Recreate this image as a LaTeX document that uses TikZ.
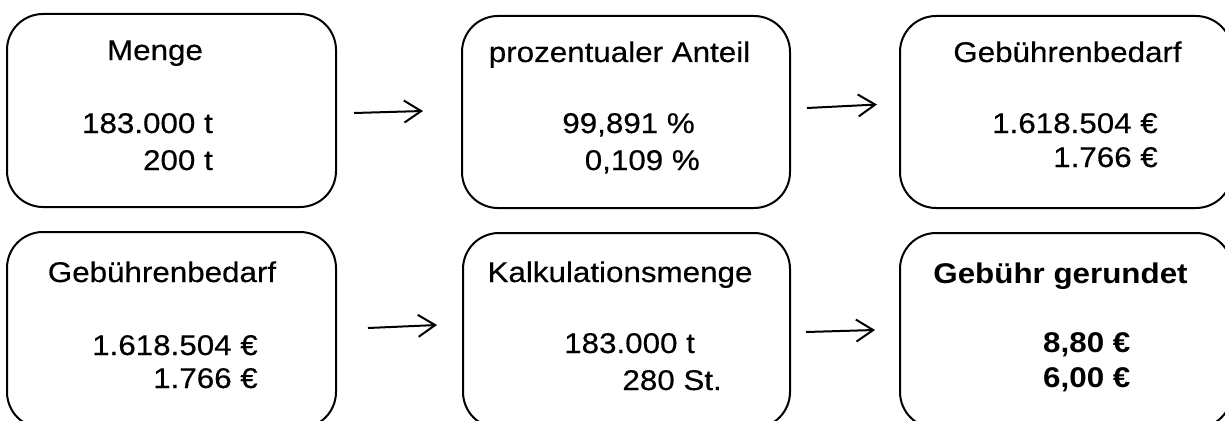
\documentclass[tikz,border=0pt]{standalone}
\usepackage{fontspec}
\setmainfont[FakeStretch=1.1,UprightFeatures={FakeBold=0.4}]{Liberation Sans}
\usetikzlibrary{arrows.meta}
\begin{document}
\begin{tikzpicture}[x=1pt,y=-1pt,
  box/.style={draw=black,line width=2pt,rounded corners=36pt,inner sep=0pt,minimum width=#1},
  txt/.style={inner sep=0pt,font=\fontsize{28.5}{34}\selectfont},
  btxt/.style={inner sep=0pt,font=\fontsize{28.5}{34}\selectfont\bfseries},
  arr/.style={line width=2pt,-{Straight Barb[length=17pt,width=22pt,line width=2pt]}}]
\clip (0,0) rectangle (1225,420);
\fill[white] (0,0) rectangle (1225,420);
% boxes
\node[box=329pt,minimum height=193pt] (b1) at (171.5,110.5) {};
\node[box=328pt,minimum height=192pt] (b2) at (626,112) {};
\node[box=332pt,minimum height=192pt] (b3) at (1066,112) {};
\node[box=329pt,minimum height=196pt] (b4) at (171.5,330) {};
\node[box=327pt,minimum height=195pt] (b5) at (626.5,330.5) {};
\node[box=332pt,minimum height=195pt] (b6) at (1066,330.5) {};
% texts box 1
\node[txt,anchor=base] (t1) at (155,60) {Menge};
\node[txt,anchor=base east] (t1a) at (213,133) {183.000 t};
\node[txt,anchor=base east] (t1b) at (213,170) {200 t};
% box 2
\node[txt,anchor=base] (t2) at (619.5,62) {prozentualer Anteil};
\node[txt,anchor=base east] (t2a) at (695,133) {99,891 \%};
\node[txt,anchor=base east] (t2b) at (700,170) {0,109 \%};
% box 3
\node[txt,anchor=base] (t3) at (1067.5,62) {Gebührenbedarf};
\node[txt,anchor=base east] (t3a) at (1158,133) {1.618.504 €};
\node[txt,anchor=base east] (t3b) at (1158,167) {1.766 €};
% box 4
\node[txt,anchor=base] (t4) at (162,282) {Gebührenbedarf};
\node[txt,anchor=base east] (t4a) at (258,355) {1.618.504 €};
\node[txt,anchor=base east] (t4b) at (258,388) {1.766 €};
% box 5
\node[txt,anchor=base] (t5) at (620,282) {Kalkulationsmenge};
\node[txt,anchor=base west] (t5a) at (564,353) {183.000 t};
\node[txt,anchor=base east] (t5b) at (722,390) {280 St.};
% box 6
\node[btxt,anchor=base] (t6) at (1060.5,283) {Gebühr gerundet};
\node[btxt,anchor=base west] (t6a) at (1043,352) {8,80 €};
\node[btxt,anchor=base west] (t6b) at (1043,387) {6,00 €};
% arrows
\coordinate (a1s) at (354,113); \coordinate (a1e) at (423,111);
\coordinate (a2s) at (807,108); \coordinate (a2e) at (877,104.5);
\coordinate (a3s) at (368,328); \coordinate (a3e) at (437,325);
\coordinate (a4s) at (806,332); \coordinate (a4e) at (875,330);
\draw[arr] (a1s) -- (a1e);
\draw[arr] (a2s) -- (a2e);
\draw[arr] (a3s) -- (a3e);
\draw[arr] (a4s) -- (a4e);
\end{tikzpicture}
\end{document}
